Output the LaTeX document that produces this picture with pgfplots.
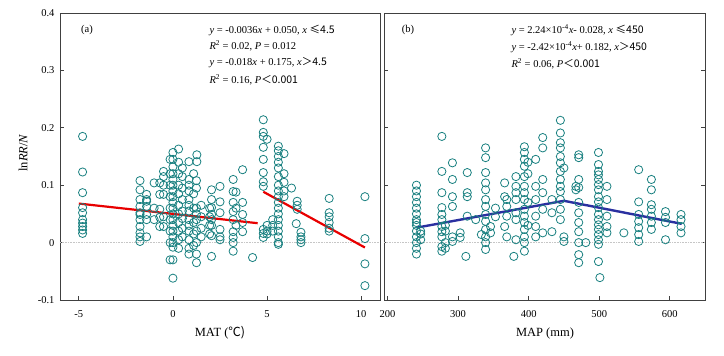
\documentclass[border=0pt]{standalone}
\usepackage{fontspec}
\setmainfont{Liberation Serif}
\newfontfamily\cjk{Noto Sans CJK SC}
\usepackage{pgfplots}
\pgfplotsset{compat=1.18}
\definecolor{ptc}{RGB}{25,128,128}
\definecolor{lred}{RGB}{232,0,0}
\definecolor{lblue}{RGB}{42,48,160}
\pgfplotsset{
  myax/.style={
    scale only axis, height=287pt,
    ymin=-0.1, ymax=0.4, ytick={-0.1,0,0.1,0.2,0.3,0.4},
    tick align=inside, major tick length=4pt,
    axis line style={black!75, line width=0.8pt},
    tick style={black!75, line width=0.8pt},
    font=\fontsize{10.5}{12}\selectfont,
    /pgf/number format/assume math mode=true,
    yticklabel style={/pgf/number format/fixed, /pgf/number format/precision=1, xshift=-2pt},
    xticklabel style={yshift=-7pt},
    clip=false,
  },
  pts/.style={only marks, mark=o, mark size=4.1pt, color=ptc, mark options={line width=0.8pt, fill opacity=0}},
}
\begin{document}
\begin{tikzpicture}[x=1pt,y=1pt]
\path (0,0) rectangle (724,356);
% ---------- panel (a)
\begin{axis}[myax, at={(60pt,56pt)}, anchor=south west, width=320pt,
  xmin=-6, xmax=11, xtick={-5,0,5,10}, xtick pos=left, ytick pos=left]
\addplot[gray!45, densely dotted, line width=0.6pt] coordinates {(-6,0) (11,0)};
\addplot[pts] coordinates {
(-4.8,0.185)(-4.8,0.123)(-4.8,0.087)(-4.8,0.061)(-4.8,0.052)(-4.8,0.040)(-4.8,0.034)(-4.8,0.028)(-4.8,0.022)(-4.8,0.016)
(-1.75,0.108)(-1.75,0.092)(-1.75,0.063)(-1.75,0.052)(-1.75,0.040)(-1.75,0.028)(-1.75,0.017)(-1.75,0.002)(-1.75,0.010)(-1.75,0.075)(-1.75,0.049)
(-1.4,0.084)(-1.4,0.075)(-1.4,0.063)(-1.4,0.049)(-1.4,0.010)(-1.4,0.072)(-1.4,0.040)
(-1.0,0.104)(-1.0,0.060)(-1.0,0.040)
(-0.7,0.104)(-0.7,0.084)(-0.7,0.058)(-0.7,0.044)(-0.7,0.028)
(-0.5,0.124)(-0.5,0.084)(-0.5,0.028)(-0.5,0.115)(-0.5,0.100)(-0.5,0.045)
(-0.15,0.145)(-0.15,0.12)(-0.15,0.10)(-0.15,0.08)(-0.15,0.06)(-0.15,0.04)(-0.15,0.02)(-0.15,0.0)(-0.15,-0.03)
(0,0.157)(0,0.145)(0,0.132)(0,0.12)(0,0.11)(0,0.10)(0,0.09)(0,0.08)(0,0.07)(0,0.06)(0,0.05)(0,0.04)(0,0.03)(0,0.02)(0,0.01)(0,0.0)(0,-0.008)(0,-0.03)(0,-0.062)
(0.3,0.163)(0.3,0.14)(0.3,0.12)(0.3,0.1)(0.3,0.085)(0.3,0.065)(0.3,0.05)(0.3,0.035)(0.3,0.02)(0.3,0.005)(0.3,-0.01)
(0.5,0.13)(0.5,0.115)(0.5,0.095)(0.5,0.075)(0.5,0.055)(0.5,0.042)(0.5,0.025)(0.5,0.01)
(0.85,0.141)(0.85,0.11)(0.85,0.1)(0.85,0.09)(0.85,0.075)(0.85,0.065)(0.85,0.055)(0.85,0.04)(0.85,0.03)(0.85,0.02)(0.85,0.005)(0.85,-0.01)(0.85,-0.02)
(1.1,0.12)(1.1,0.085)(1.1,0.06)(1.1,0.035)(1.1,0.015)(1.1,-0.005)
(1.27,0.153)(1.27,0.141)(1.25,0.108)(1.25,0.095)(1.25,0.06)(1.25,0.05)(1.25,0.04)(1.25,0.02)(1.25,0.0)(1.25,-0.02)(1.25,-0.035)
(1.5,0.065)(1.5,0.045)(1.5,0.025)(1.5,0.01)
(1.95,0.06)(1.95,0.045)(1.95,0.03)(1.95,0.015)
(2.05,0.092)(2.05,0.075)(2.05,0.061)(2.05,0.049)(2.05,0.04)(2.05,0.03)(2.05,0.012)(2.05,-0.024)
(2.5,0.098)(2.5,0.071)(2.5,0.052)(2.5,0.023)(2.5,0.01)(2.5,0.005)
(3.2,0.11)(3.2,0.089)(3.2,0.07)(3.2,0.054)(3.2,0.04)(3.2,0.019)(3.2,0.009)(3.2,0.0)(3.2,-0.015)
(3.35,0.088)(3.35,0.06)(3.35,0.03)
(3.7,0.127)(3.7,0.07)(3.7,0.049)(3.7,0.035)(3.7,0.019)
(4.23,-0.026)
(4.8,0.214)(4.8,0.192)(4.8,0.185)(4.8,0.166)(4.8,0.145)(4.8,0.122)(4.8,0.106)(4.8,0.098)(4.8,0.023)(4.8,0.016)(4.8,0.009)
(5.0,0.180)(5.0,0.03)(5.0,0.02)(5.0,0.015)
(5.3,0.04)(5.3,0.03)(5.3,0.02)
(5.6,0.168)(5.6,0.16)(5.6,0.15)(5.6,0.14)(5.6,0.13)(5.6,0.115)(5.6,0.1)(5.6,0.09)(5.6,0.08)(5.6,0.07)(5.6,0.06)(5.6,0.05)(5.6,0.04)(5.6,0.03)(5.6,0.02)(5.6,0.01)(5.6,0.0)(5.6,-0.003)
(5.9,0.155)(5.9,0.12)(5.9,0.105)(5.9,0.09)(5.9,0.08)
(6.3,0.095)
(6.6,0.072)(6.6,0.065)(6.6,0.058)(6.55,0.033)
(6.8,0.018)(6.8,0.01)(6.8,0.005)(6.8,0.0)
(8.3,0.077)(8.3,0.052)(8.3,0.045)(8.3,0.035)(8.3,0.025)(8.3,0.02)
(10.2,0.080)(10.2,0.007)(10.2,-0.037)(10.2,-0.075)
};
\addplot[lred, line width=2.2pt] coordinates {(-5,0.068) (4.5,0.0338)};
\addplot[lred, line width=2.2pt] coordinates {(4.8,0.0886) (10.2,-0.0086)};
\end{axis}
% ---------- panel (b)
\begin{axis}[myax, at={(384pt,56pt)}, anchor=south west, width=321pt,
  xmin=195, xmax=650, xtick={200,300,400,500,600}, xtick pos=left,
  ytick pos=both, yticklabels={}]
\addplot[gray!45, densely dotted, line width=0.6pt] coordinates {(195,0) (650,0)};
\addplot[pts] coordinates {
(241,0.10)(241,0.09)(241,0.08)(241,0.07)(241,0.06)(241,0.05)(241,0.04)(241,0.035)(241,0.03)(241,0.02)(241,0.01)(241,0.0)(241,-0.01)(241,-0.02)
(247,0.02)(247,0.015)(247,0.005)
(277,0.185)(277,0.124)(277,0.087)(277,0.061)(277,0.049)(277,0.04)(277,0.028)(277,0.019)(277,0.010)(277,-0.007)(277,-0.015)
(282,0.03)(282,0.02)(282,0.0)(282,-0.01)
(292,0.139)(292,0.11)(292,0.08)(292,0.063)(292,0.01)(292,0.002)
(303,0.017)(303,0.009)
(311,-0.024)
(313,0.122)(313,0.087)(313,0.08)(313,0.046)
(325,0.040)
(333,0.014)
(339,0.165)(339,0.148)(339,0.122)(339,0.104)(339,0.092)(339,0.075)(339,0.063)(339,0.049)(339,0.037)(339,0.023)(339,0.010)(339,0.0)(339,-0.012)
(346,0.028)(346,0.017)
(353,0.06)(353,0.045)
(366,0.104)(366,0.08)(366,0.028)
(369,0.075)(369,0.063)(369,0.046)(369,0.010)
(379,-0.024)
(382,0.115)(382,0.098)(382,0.087)(382,0.075)(382,0.052)(382,0.04)(382,0.005)
(394,0.167)(394,0.157)(394,0.145)(394,0.133)(394,0.115)(394,0.098)(394,0.087)(394,0.075)(394,0.058)(394,0.046)(394,0.035)(394,0.023)(394,0.01)(394,0.0)(394,-0.015)
(399,0.14)(399,0.12)(399,0.07)(399,0.03)
(410,0.145)(410,0.098)(410,0.075)(410,0.046)(410,0.028)(410,0.010)
(420,0.183)(420,0.165)(420,0.11)(420,0.087)(420,0.058)(420,0.017)
(433,0.075)(433,0.052)(433,0.019)
(445,0.213)(445,0.191)(445,0.174)(445,0.165)(445,0.15)(445,0.139)(445,0.124)(445,0.11)(445,0.098)(445,0.089)(445,0.075)(445,0.058)(445,0.04)
(450,0.13)(450,0.01)(450,0.002)
(467,0.098)(467,0.092)
(471,0.153)(471,0.148)(471,0.11)(471,0.096)(471,0.07)(471,0.052)(471,0.035)(471,0.019)(471,0.0)(471,-0.021)(471,-0.035)
(481,0.0)
(499,0.157)(499,0.136)(499,0.124)(499,0.118)(499,0.11)(499,0.101)(499,0.092)(499,0.08)(499,0.071)(499,0.061)(499,0.049)(499,0.04)(499,0.031)(499,0.023)(499,0.014)(499,0.005)(499,-0.003)(499,-0.033)(501,-0.061)
(511,0.098)(511,0.075)(511,0.046)(511,0.028)(511,0.017)
(535,0.017)
(556,0.127)(556,0.071)(556,0.049)(556,0.037)(556,0.026)(556,0.014)(556,0.002)
(574,0.11)(574,0.092)(574,0.066)(574,0.058)(574,0.046)(574,0.035)(574,0.023)
(594,0.054)(594,0.044)(594,0.035)(594,0.005)
(616,0.049)(616,0.04)(616,0.028)(616,0.017)
};
\addplot[lblue, line width=2.4pt] coordinates {(241,0.026) (450,0.0728) (617,0.0327)};
\end{axis}
% ---------- texts
\begin{scope}[font=\fontsize{10.5}{12}\selectfont]
\node at (87,326) {(a)};
\node[anchor=west] at (206,326) {\textit{y} = -0.0036\textit{x} + 0.050, \textit{x} \cjk{≤}4.5};
\node[anchor=west] at (206,310) {\textit{R}\textsuperscript{2} = 0.02, \textit{P} = 0.012};
\node[anchor=west] at (206,293) {\textit{y} = -0.018\textit{x} + 0.175, \textit{x}\cjk{＞}4.5};
\node[anchor=west] at (206,276) {\textit{R}\textsuperscript{2} = 0.16, \textit{P}\cjk{＜}0.001};
\node at (408,326) {(b)};
\node[anchor=west] at (508,326) {\textit{y} = 2.24×10\textsuperscript{-4}\textit{x}- 0.028, \textit{x} \cjk{≤}450};
\node[anchor=west] at (508,309) {\textit{y} = -2.42×10\textsuperscript{-4}\textit{x}+ 0.182, \textit{x}\cjk{＞}450};
\node[anchor=west] at (508,292) {\textit{R}\textsuperscript{2} = 0.06, \textit{P}\cjk{＜}0.001};
\end{scope}
\begin{scope}[font=\fontsize{12.5}{14}\selectfont]
\node[rotate=90] at (23,203) {ln\textit{RR}/\textit{N}};
\node at (220,23) {MAT (\cjk{℃})};
\node at (545,23) {MAP (mm)};
\end{scope}
\end{tikzpicture}
\end{document}
